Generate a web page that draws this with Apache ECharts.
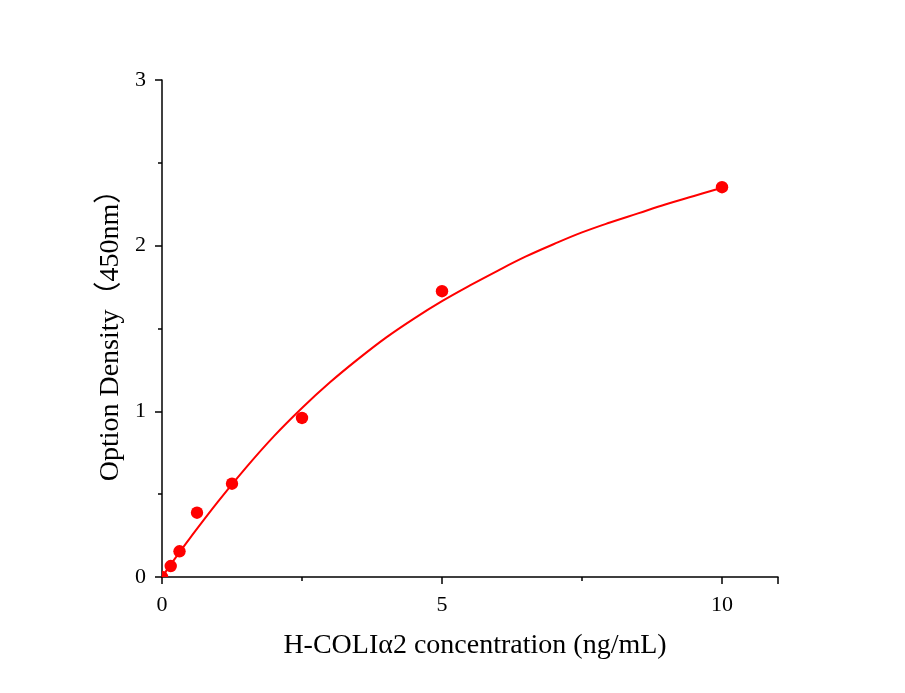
<!DOCTYPE html>
<html>
<head>
<meta charset="utf-8">
<script src="https://cdn.jsdelivr.net/npm/echarts@6/dist/echarts.min.js"></script>
<style>
  html, body { margin: 0; padding: 0; background: #fff; }
  #main { width: 905px; height: 693px; }
</style>
</head>
<body>
<div id="main"></div>
<script>
// measured standards
var concentration = [0, 0.156, 0.3125, 0.625, 1.25, 2.5, 5, 10];
var density = [0.0, 0.066, 0.155, 0.388, 0.563, 0.960, 1.725, 2.353];

// fitted curve
var curveX = [0, 0.25, 0.5, 1, 1.5, 2, 2.5, 3, 3.5, 4, 4.5, 5, 5.5, 6, 6.5, 7, 7.5, 8, 8.5, 9, 9.5, 10];
var curveY = [0, 0.12, 0.235, 0.455, 0.66, 0.85, 1.02, 1.175, 1.315, 1.445, 1.56, 1.665, 1.76, 1.85, 1.935, 2.01, 2.08, 2.14, 2.195, 2.25, 2.3, 2.35];

var xTicks = [0, 5, 10];
var yTicks = [0, 1, 2, 3];

var font = "'Liberation Serif', 'Times New Roman', 'Noto Sans CJK SC', serif";

var myChart = echarts.init(document.getElementById('main'));

myChart.setOption({
  animation: false,
  backgroundColor: '#fff',
  grid: { left: 162, right: 127, top: 80, bottom: 116 },
  xAxis: {
    type: 'value',
    min: 0,
    max: 11,
    interval: 5,
    name: 'H-COLIα2 concentration (ng/mL)',
    nameLocation: 'middle',
    nameGap: 55,
    nameTextStyle: { fontFamily: font, fontSize: 28, color: '#000', padding: [0, 0, 0, 10] },
    axisLine: { show: true, lineStyle: { color: '#000', width: 1.5 } },
    axisTick: { show: true, inside: false, length: 7, lineStyle: { color: '#000', width: 1.5 } },
    minorTick: { show: true, splitNumber: 2, length: 4, lineStyle: { color: '#000', width: 1.5 } },
    axisLabel: {
      margin: 17,
      fontFamily: font, fontSize: 22, color: '#000',
      formatter: function (v) { return xTicks.indexOf(v) >= 0 ? String(v) : ''; }
    },
    splitLine: { show: false }
  },
  yAxis: {
    type: 'value',
    min: 0,
    max: 3,
    interval: 1,
    name: 'Option Density（450nm）',
    nameLocation: 'middle',
    nameMoveOverlap: false,
    nameGap: 37,
    nameTextStyle: { fontFamily: font, fontSize: 28, color: '#000' },
    axisLine: { show: true, lineStyle: { color: '#000', width: 1.5 } },
    axisTick: { show: true, inside: false, length: 7, lineStyle: { color: '#000', width: 1.5 } },
    minorTick: { show: true, splitNumber: 2, length: 4, lineStyle: { color: '#000', width: 1.5 } },
    axisLabel: {
      margin: 16,
      fontFamily: font, fontSize: 22, color: '#000',
      formatter: function (v) { return yTicks.indexOf(v) >= 0 ? String(v) : ''; }
    },
    splitLine: { show: false }
  },
  series: [
    {
      name: 'fit',
      type: 'line',
      data: curveX.map(function (x, i) { return [x, curveY[i]]; }),
      smooth: 0.4,
      showSymbol: false,
      lineStyle: { color: '#ff0000', width: 2 },
      z: 2
    },
    {
      name: 'standards',
      type: 'custom',
      clip: true,
      data: concentration.map(function (x, i) { return [x, density[i]]; }),
      renderItem: function (params, api) {
        var p = api.coord([api.value(0), api.value(1)]);
        return {
          type: 'circle',
          shape: { cx: p[0], cy: p[1], r: 6.2 },
          style: { fill: '#ff0000' }
        };
      },
      z: 3
    }
  ]
});
</script>
</body>
</html>
